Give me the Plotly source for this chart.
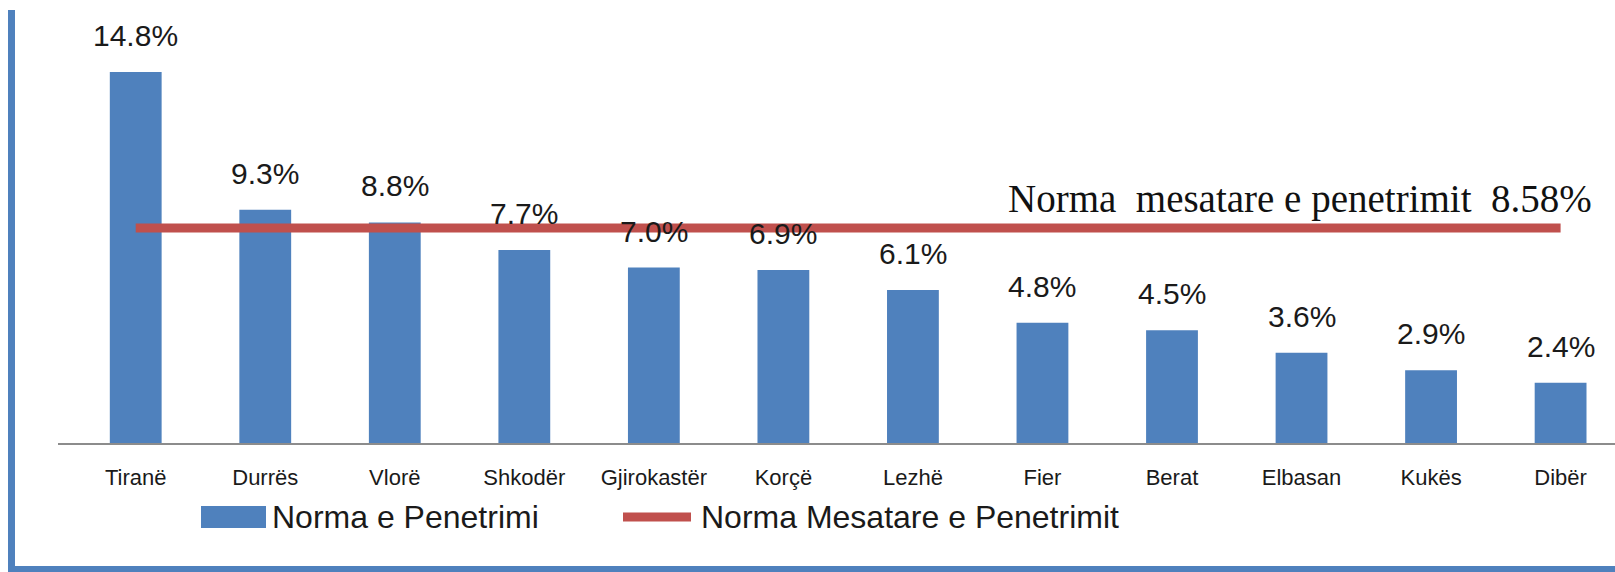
import plotly.graph_objects as go

# ---- data ----
categories = ["Tiranë", "Durrës", "Vlorë", "Shkodër", "Gjirokastër", "Korçë",
              "Lezhë", "Fier", "Berat", "Elbasan", "Kukës", "Dibër"]
penetration = [14.8, 9.3, 8.8, 7.7, 7.0, 6.9, 6.1, 4.8, 4.5, 3.6, 2.9, 2.4]
average_rate = 8.58
bar_name = "Norma e Penetrimi"
line_name = "Norma Mesatare e Penetrimit"
line_label = "Norma  mesatare e penetrimit  8.58%"

# ---- layout constants (pixels) ----
W, H = 1615, 572
ML, MR, MT, MB = 58, 0, 10, 129
PW = W - ML - MR
PH = H - MT - MB


def px_x(px):
    return (px - ML) / PW


def px_y(py):
    return (H - MB - py) / PH


BLUE = "#4F81BD"
RED = "#C0504D"
SANS = "Liberation Sans, Arial, sans-serif"

fig = go.Figure()
fig.add_trace(go.Bar(
    x=categories, y=penetration, name=bar_name,
    marker=dict(color=BLUE, line=dict(width=0)), width=0.4,
    showlegend=False,
))
fig.add_trace(go.Scatter(
    x=[categories[0], categories[-1]], y=[average_rate, average_rate],
    mode="lines", name=line_name,
    line=dict(color=RED, width=9), showlegend=False,
))

annotations = []
for c, v in zip(categories, penetration):
    annotations.append(dict(
        x=c, y=v, xref="x", yref="y", text=f"{v:.1f}%", showarrow=False,
        yanchor="bottom", yshift=18,
        font=dict(family=SANS, size=30, color="#1a1a1a"),
    ))
annotations.append(dict(
    x=px_x(1594), y=average_rate, xref="paper", yref="y", text=line_label,
    showarrow=False, xanchor="right", yanchor="bottom", yshift=5,
    font=dict(family="Liberation Serif, Times New Roman, serif", size=39, color="#111111"),
))
# custom legend texts
annotations.append(dict(
    x=px_x(270), y=px_y(517), xref="paper", yref="paper", text=bar_name,
    showarrow=False, xanchor="left", yanchor="middle",
    font=dict(family=SANS, size=32, color="#1a1a1a"),
))
annotations.append(dict(
    x=px_x(699), y=px_y(517), xref="paper", yref="paper", text=line_name,
    showarrow=False, xanchor="left", yanchor="middle",
    font=dict(family=SANS, size=32, color="#1a1a1a"),
))

shapes = [
    # legend swatches
    dict(type="rect", xref="paper", yref="paper",
         x0=px_x(201), x1=px_x(266), y0=px_y(528), y1=px_y(506),
         fillcolor=BLUE, line=dict(width=0)),
    dict(type="line", xref="paper", yref="paper",
         x0=px_x(623), x1=px_x(691), y0=px_y(517), y1=px_y(517),
         line=dict(color=RED, width=9)),
    # outer frame (left and bottom)
    dict(type="rect", xref="paper", yref="paper",
         x0=px_x(8), x1=px_x(15), y0=px_y(572), y1=px_y(10),
         fillcolor=BLUE, line=dict(width=0), layer="below"),
    dict(type="rect", xref="paper", yref="paper",
         x0=px_x(8), x1=px_x(1615), y0=px_y(572), y1=px_y(566),
         fillcolor=BLUE, line=dict(width=0), layer="below"),
]

ymax = PH / 25.07
fig.update_layout(
    width=W, height=H,
    margin=dict(l=ML, r=MR, t=MT, b=MB),
    paper_bgcolor="white", plot_bgcolor="white",
    showlegend=False,
    annotations=annotations,
    shapes=shapes,
    xaxis=dict(
        type="category", range=[-0.6, 11.42],
        showline=True, linecolor="#8c8c8c", linewidth=2,
        ticks="outside", ticklen=14, tickcolor="rgba(0,0,0,0)",
        showgrid=False, zeroline=False,
        tickfont=dict(family=SANS, size=22, color="#1a1a1a"),
        fixedrange=True,
    ),
    yaxis=dict(
        range=[0, ymax], visible=False, showgrid=False, zeroline=False,
        fixedrange=True,
    ),
)

fig.write_html(
    "out.html",
    config={"displayModeBar": False},
    post_script="document.body.style.margin='0';document.body.style.padding='0';",
)
